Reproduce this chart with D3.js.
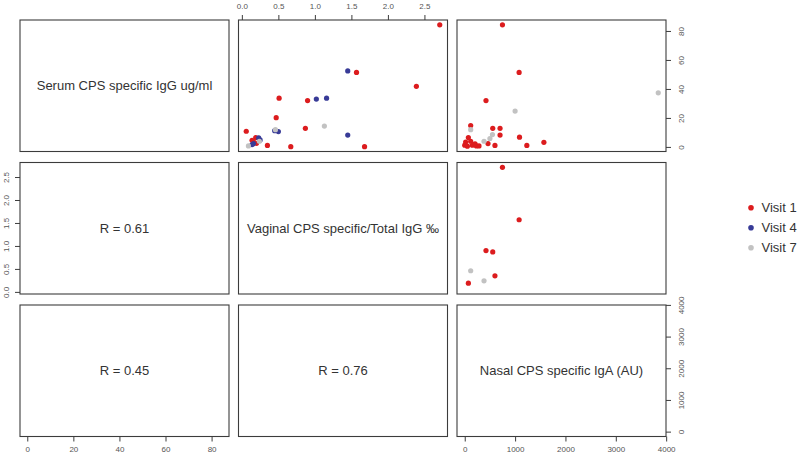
<!DOCTYPE html>
<html><head><meta charset="utf-8">
<script src="https://cdn.jsdelivr.net/npm/d3@7"></script>
<style>
body{margin:0;background:#fff}
svg{display:block;font-family:"Liberation Sans",Arial,sans-serif}
</style>
</head><body>
<svg id="c" width="800" height="457"></svg>
<script>
// ---- data ----
const varLabels = ["Serum CPS specific IgG ug/ml", "Vaginal CPS specific/Total IgG \u2030", "Nasal CPS specific IgA (AU)"];
const visitNames = ["Visit 1", "Visit 4", "Visit 7"];
const visitColors = ["#dc1c1e", "#383b97", "#c2c2c2"];
// one entry per sample (visit index 0=Visit 1, 1=Visit 4, 2=Visit 7); null = not measured
const visit   = [0,0,0,0,0,0,0,0,0,0,0,0,0,0,0,0,0,0,0,0,0,0,0,0,0,0,0,0,0,0, 1,1,1,1,1,1,1,1,1,1, 2,2,2,2,2,2,2,2];
const serum   = [84.2,51.4,32.0,12.8,1.0,6.5,41.8,33.6,20.2,10.8,0.2,0.2,4.6,3.5,2.5,14.7,12.8,8.2,6.7,2.3,1.0,3.2,3.4,3.9,1.2,1.2,0.7,0.7,0.5,2.2,
                 52.4,33.0,33.6,11.2,10.6,8.2,6.2,4.8,2.3,1.6,
                 11.9,3.9,14.4,0.7,24.7,37.3,8.5,5.8];
const vaginal = [2.71,1.57,0.90,0.87,0.35,0.19,2.39,0.51,0.47,0.06,0.67,1.68,0.14,0.16,0.20,null,null,null,null,null,null,null,null,null,null,null,null,null,null,null,
                 1.45,1.02,1.16,0.45,0.50,1.45,0.23,0.25,0.16,0.14,
                 0.46,0.24,1.13,0.09,null,null,null,null];
const nasal   = [749,1080,422,556,600,72,null,null,null,null,null,null,null,null,null,118,701,701,1088,462,1233,1572,18,118,151,0,231,283,52,205,
                 null,null,null,null,null,null,null,null,null,null,
                 118,383,null,null,1000,3843,550,500];
const serumTicks   = [0,20,40,60,80];
const vaginalTicks = [0,0.5,1,1.5,2,2.5];
const nasalTicks   = [0,1000,2000,3000,4000];
const corrLabels = [{row:1,col:0,text:"R = 0.61"},{row:2,col:0,text:"R = 0.45"},{row:2,col:1,text:"R = 0.76"}];

// ---- layout ----
const svg = d3.select("#c");
const colX = [20, 238.5, 457], rowY = [20, 162.5, 305];
const pw = 209, ph = 131.5;
const vars = [serum, vaginal, nasal];
const ticks = [serumTicks, vaginalTicks, nasalTicks];
const fmts = [d3.format("d"), d3.format(".1f"), d3.format("d")];

function padded(arr){
  const e = d3.extent(arr.filter(v => v != null));
  const p = (e[1]-e[0])*0.04;
  return [e[0]-p, e[1]+p];
}
const xS = vars.map((v,i) => d3.scaleLinear().domain(padded(v)).range([colX[i], colX[i]+pw]));
const yS = vars.map((v,i) => d3.scaleLinear().domain(padded(v)).range([rowY[i]+ph, rowY[i]]));

const idx = d3.range(visit.length);

// panels
for (let r=0;r<3;r++) for (let c=0;c<3;c++){
  svg.append("rect").attr("x",colX[c]).attr("y",rowY[r]).attr("width",pw).attr("height",ph)
    .attr("fill","none").attr("stroke","#3c3c3c").attr("stroke-width",1.1);
  if (r===c){
    svg.append("text").attr("x",colX[c]+pw/2).attr("y",rowY[r]+ph/2).attr("dy","0.35em")
      .attr("text-anchor","middle").attr("font-size",13).attr("fill","#333").text(varLabels[r]);
  } else if (r<c){
    const xv = vars[c], yv = vars[r];
    svg.append("g").selectAll("circle")
      .data(idx.filter(i => xv[i]!=null && yv[i]!=null))
      .join("circle")
      .attr("cx", i => xS[c](xv[i])).attr("cy", i => yS[r](yv[i])).attr("r",2.6)
      .attr("fill", i => visitColors[visit[i]]);
  }
}
corrLabels.forEach(d => {
  svg.append("text").attr("x",colX[d.col]+pw/2).attr("y",rowY[d.row]+ph/2).attr("dy","0.35em")
    .attr("text-anchor","middle").attr("font-size",13).attr("fill","#333").text(d.text);
});

function styleAxis(g){
  g.select(".domain").remove();
  g.selectAll(".tick line").attr("stroke","#3c3c3c");
  g.selectAll(".tick text").attr("font-size",8).attr("fill","#555").attr("font-family",'"Liberation Sans",Arial,sans-serif');
}
// top axis (vaginal) above column 2
svg.append("g").attr("transform",`translate(0,${rowY[0]})`)
  .call(d3.axisTop(xS[1]).tickValues(vaginalTicks).tickFormat(fmts[1]).tickSize(5).tickPadding(6))
  .call(styleAxis);
// bottom axes (serum, nasal) under columns 1 and 3
[0,2].forEach(c => {
  svg.append("g").attr("transform",`translate(0,${rowY[2]+ph})`)
    .call(d3.axisBottom(xS[c]).tickValues(ticks[c]).tickFormat(fmts[c]).tickSize(5).tickPadding(5))
    .call(styleAxis);
});
// left axis (vaginal) for row 2
svg.append("g").attr("transform",`translate(${colX[0]},0)`)
  .call(d3.axisLeft(yS[1]).tickValues(vaginalTicks).tickFormat(fmts[1]).tickSize(5))
  .call(styleAxis)
  .call(g => g.selectAll(".tick text").attr("x",null).attr("dy","0.35em").attr("text-anchor","middle")
     .attr("transform","translate(-14,0) rotate(-90)"));
// right axes (serum, nasal) for rows 1 and 3
[0,2].forEach(r => {
  svg.append("g").attr("transform",`translate(${colX[2]+pw},0)`)
    .call(d3.axisRight(yS[r]).tickValues(ticks[r]).tickFormat(fmts[r]).tickSize(5))
    .call(styleAxis)
    .call(g => g.selectAll(".tick text").attr("x",null).attr("dy","0.35em").attr("text-anchor","middle")
       .attr("transform","translate(15,0) rotate(-90)"));
});

// legend
const lg = svg.append("g").selectAll("g").data(visitNames).join("g")
  .attr("transform",(d,i)=>`translate(751,${207.7+i*20})`);
lg.append("circle").attr("r",2.8).attr("fill",(d,i)=>visitColors[i]);
lg.append("text").attr("x",10.5).attr("dy","0.35em").attr("font-size",13).attr("fill","#333").text(d=>d);
</script>
</body></html>
